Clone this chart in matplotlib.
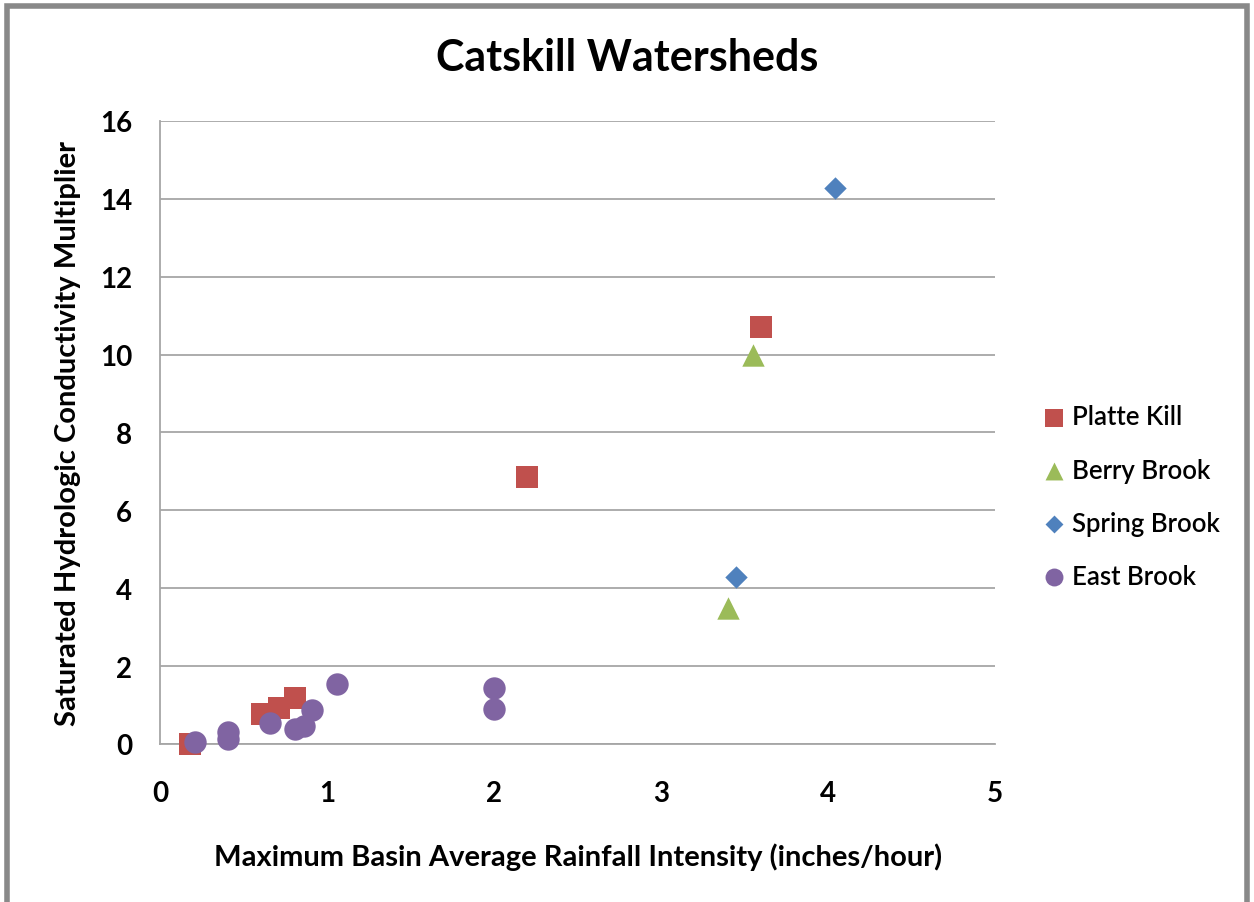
import matplotlib.pyplot as plt
from matplotlib.patches import Rectangle

# Rainfall intensity (in/hr) vs. Ksat multiplier for each watershed
platte_x = [0.18, 0.61, 0.71, 0.81, 2.20, 3.60]
platte_y = [0.00, 0.78, 0.92, 1.19, 6.85, 10.70]

berry_x = [3.55, 3.40]
berry_y = [10.00, 3.50]

spring_x = [4.04, 3.45]
spring_y = [14.27, 4.29]

east_x = [0.21, 0.41, 0.41, 0.66, 0.81, 0.86, 0.91, 1.06, 2.00, 2.00]
east_y = [0.06, 0.30, 0.13, 0.54, 0.39, 0.45, 0.86, 1.54, 1.45, 0.89]

x_ticks = [0, 1, 2, 3, 4, 5]
y_ticks = [0, 2, 4, 6, 8, 10, 12, 14, 16]

plt.rcParams['font.family'] = ['Lato', 'DejaVu Sans']

fig = plt.figure(figsize=(12.54, 9.03), dpi=100)
ax = fig.add_axes([0.1276, 0.175, 0.6659, 0.6899])

kw = dict(zorder=3, clip_on=False, linewidths=0)
ax.scatter(platte_x, platte_y, marker='s', s=260, color='#C0504D', label='Platte Kill', **kw)
ax.scatter(berry_x, berry_y, marker='^', s=260, color='#9BBB59', label='Berry Brook', **kw)
ax.scatter(spring_x, spring_y, marker='D', s=130, color='#4F81BD', label='Spring Brook', **kw)
ax.scatter(east_x, east_y, marker='o', s=260, color='#8064A2', label='East Brook', **kw)

ax.set_xlim(0, 5)
ax.set_ylim(0, 16)
ax.set_xticks(x_ticks)
ax.set_yticks(y_ticks)
ax.tick_params(length=0, labelsize=20)
ax.tick_params(axis='x', pad=26)
ax.tick_params(axis='y', pad=20)
for lbl in ax.get_xticklabels() + ax.get_yticklabels():
    lbl.set_fontweight('bold')
ax.grid(axis='y', color='#A6A6A6', linewidth=1.3)
ax.set_axisbelow(True)
for side in ['top', 'right']:
    ax.spines[side].set_visible(False)
for side in ['left', 'bottom']:
    ax.spines[side].set_color('#A6A6A6')
    ax.spines[side].set_linewidth(1.3)

fig.text(0.5, 1 - 58 / 903, 'Catskill Watersheds', fontsize=31, fontweight='bold',
         ha='center', va='center')
fig.text(578 / 1254, 1 - 857 / 903,
         'Maximum Basin Average Rainfall Intensity (inches/hour)',
         fontsize=21, fontweight='bold', ha='center', va='center')
fig.text(68 / 1254, 1 - 434 / 903, 'Saturated Hydrologic Conductivity Multiplier',
         fontsize=21, fontweight='bold', ha='center', va='center', rotation=90)

ax.legend(loc='center left', bbox_to_anchor=(1.027, 0.397), frameon=False,
          prop={'size': 18.5, 'weight': 'semibold'}, labelspacing=1.1,
          handlelength=1.0, handletextpad=0.2, markerscale=0.8)

# gray frame around the chart area
fig.patches.append(Rectangle((7 / 1254, -0.05), 1 - 14 / 1254, 1.05 - 7 / 903,
                             transform=fig.transFigure, fill=False,
                             edgecolor='#898989', linewidth=4))

fig.savefig('out.png', dpi=100, facecolor='white')
